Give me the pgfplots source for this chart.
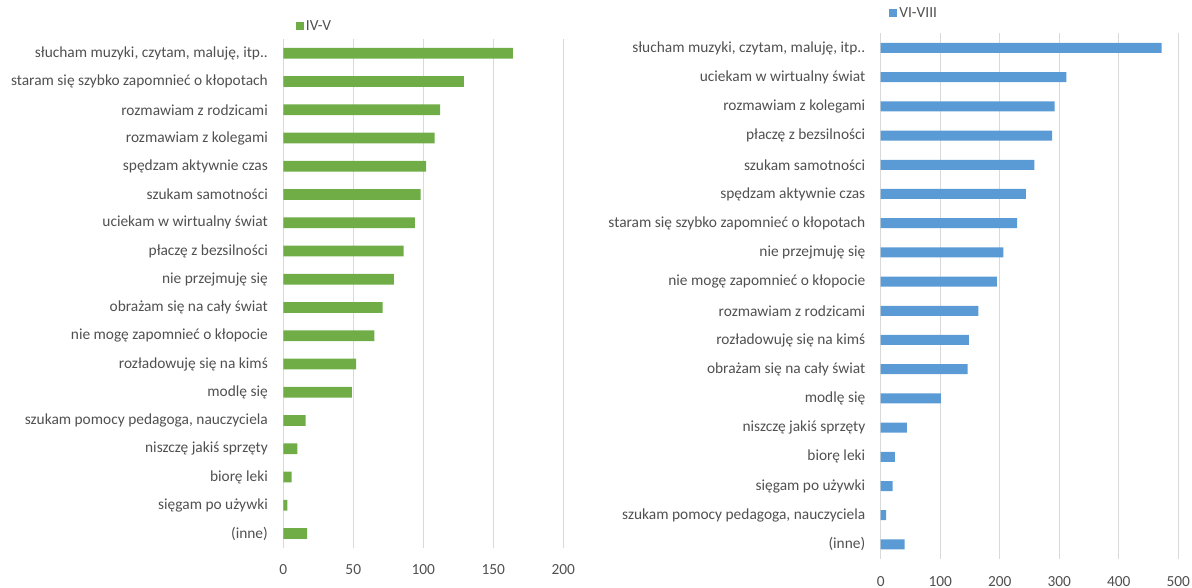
\documentclass[border=0pt]{standalone}
\usepackage{fontspec}
\setmainfont{Carlito}
\usepackage{pgfplots}
\pgfplotsset{compat=1.18}

\definecolor{xlgreen}{HTML}{70AD47}
\definecolor{xlblue}{HTML}{5B9BD5}
\definecolor{xltext}{HTML}{505050}
\definecolor{xlgrid}{HTML}{D9D9D9}

\pgfplotsset{
  excelbars/.style={
    scale only axis,
    xbar, bar shift=0pt,
    y dir=reverse,
    ymin=-0.5, ymax=17.5,
    ytick={0,...,17},
    xmin=0,
    axis line style={draw=none},
    major tick style={draw=none},
    xmajorgrids, major grid style={xlgrid, line width=0.9pt},
    tick label style={font=\fontsize{15.4}{18}\selectfont, text=xltext},
    yticklabel style={inner xsep=0pt, xshift=-11pt},
    xticklabel style={inner ysep=0pt, yshift=-17pt},
    /pgf/number format/assume math mode=true,
    legend style={draw=none, fill=none, inner sep=0pt, outer sep=0pt,
      anchor=west, font=\fontsize{15.4}{18}\selectfont, text=xltext},
  },
}

\begin{document}
\begin{tikzpicture}
\useasboundingbox (0pt,0pt) rectangle (1192pt,588pt);

% klasy IV-V
\begin{axis}[excelbars,
  at={(283.3pt,40.4pt)}, anchor=south west,
  width=280pt, height=508.4pt,
  xmax=200, xtick={0,50,...,200},
  bar width=10.7pt,
  yticklabels={{słucham muzyki, czytam, maluję, itp..},
    staram się szybko zapomnieć o kłopotach,
    rozmawiam z rodzicami,
    rozmawiam z kolegami,
    spędzam aktywnie czas,
    szukam samotności,
    uciekam w wirtualny świat,
    płaczę z bezsilności,
    nie przejmuję się,
    obrażam się na cały świat,
    nie mogę zapomnieć o kłopocie,
    rozładowuję się na kimś,
    modlę się\hspace{6pt},
    {szukam pomocy pedagoga, nauczyciela},
    niszczę jakiś sprzęty,
    biorę leki,
    sięgam po używki,
    (inne)},
  legend style={at={(axis description cs:0.045,1.026)}},
  legend image code/.code={\fill[xlgreen] (0pt,-4pt) rectangle (8pt,4pt);},
]
\addplot[fill=xlgreen, draw=none] coordinates {
  (164,0) (129,1) (112,2) (108,3) (102,4) (98,5) (94,6) (86,7) (79,8)
  (71,9) (65,10) (52,11) (49,12) (16,13) (10,14) (6,15) (3,16) (17,17)
};
\addlegendentry{IV-V}
\end{axis}

% klasy VI-VIII
\begin{axis}[excelbars,
  at={(880.7pt,29pt)}, anchor=south west,
  width=297.6pt, height=525.6pt,
  xmax=500, xtick={0,100,...,500},
  bar width=10pt,
  yticklabels={{słucham muzyki, czytam, maluję, itp..},
    uciekam w wirtualny świat,
    rozmawiam z kolegami,
    płaczę z bezsilności,
    szukam samotności,
    spędzam aktywnie czas,
    staram się szybko zapomnieć o kłopotach,
    nie przejmuję się,
    nie mogę zapomnieć o kłopocie,
    rozmawiam z rodzicami,
    rozładowuję się na kimś,
    obrażam się na cały świat,
    modlę się\hspace{6pt},
    niszczę jakiś sprzęty,
    biorę leki,
    sięgam po używki,
    {szukam pomocy pedagoga, nauczyciela},
    (inne)},
  legend style={at={(axis description cs:0.029,1.038)}},
  legend image code/.code={\fill[xlblue] (0pt,-4pt) rectangle (8pt,4pt);},
]
\addplot[fill=xlblue, draw=none] coordinates {
  (472,0) (312,1) (292,2) (288,3) (258,4) (244,5) (229,6) (206,7) (195,8)
  (164,9) (148,10) (146,11) (101,12) (44,13) (24,14) (20,15) (9,16) (40,17)
};
\addlegendentry{VI-VIII}
\end{axis}
\end{tikzpicture}
\end{document}
